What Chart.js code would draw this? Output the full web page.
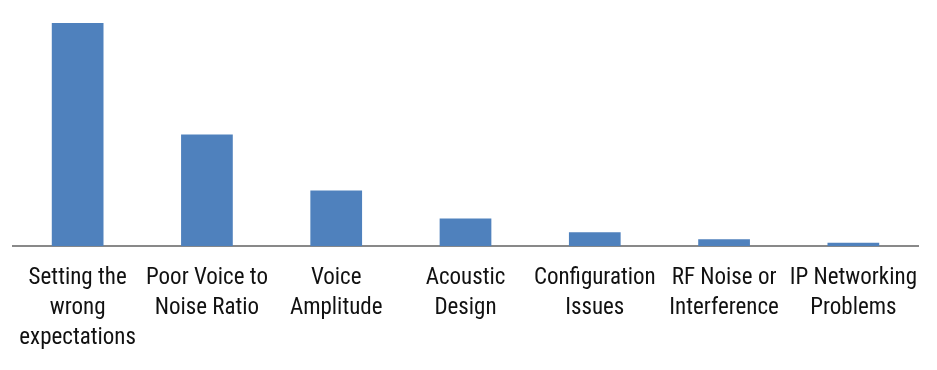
<!DOCTYPE html>
<html>
<head>
<meta charset="utf-8">
<script src="https://cdn.jsdelivr.net/npm/chart.js@4/dist/chart.umd.min.js"></script>
<style>
  html, body { margin: 0; padding: 0; background: #fff; }
  #wrap { position: relative; width: 937px; height: 370px; }
</style>
</head>
<body>
<div id="wrap"><canvas id="chart"></canvas></div>
<script>
const categories = [
  ["Setting the", "wrong", "expectations"],
  ["Poor Voice to", "Noise Ratio"],
  ["Voice", "Amplitude"],
  ["Acoustic", "Design"],
  ["Configuration", "Issues"],
  ["RF Noise or", "Interference"],
  ["IP Networking", "Problems"],
];
const values = [64, 32, 16, 8, 4, 2, 1];

const labelFont = "'Liberation Sans Narrow', 'Roboto Condensed', 'DejaVu Sans Condensed', sans-serif";

new Chart(document.getElementById("chart"), {
  type: "bar",
  data: {
    labels: categories,
    datasets: [
      {
        data: values,
        backgroundColor: "#4F81BD",
        borderWidth: 0,
        barPercentage: 0.4,
        categoryPercentage: 1,
      },
    ],
  },
  options: {
    animation: false,
    responsive: true,
    maintainAspectRatio: false,
    layout: {
      padding: { left: 13, right: 19, top: 2, bottom: 0 },
    },
    plugins: {
      legend: { display: false },
      tooltip: { enabled: false },
    },
    scales: {
      x: {
        grid: { display: false, drawTicks: false },
        border: { display: true, color: "#898989", width: 2 },
        ticks: {
          color: "#111",
          padding: 17,
          maxRotation: 0,
          autoSkip: false,
          font: { family: labelFont, size: 23, lineHeight: 1.3 },
        },
      },
      y: {
        display: false,
        min: 0,
        max: 70,
      },
    },
  },
});
</script>
</body>
</html>
